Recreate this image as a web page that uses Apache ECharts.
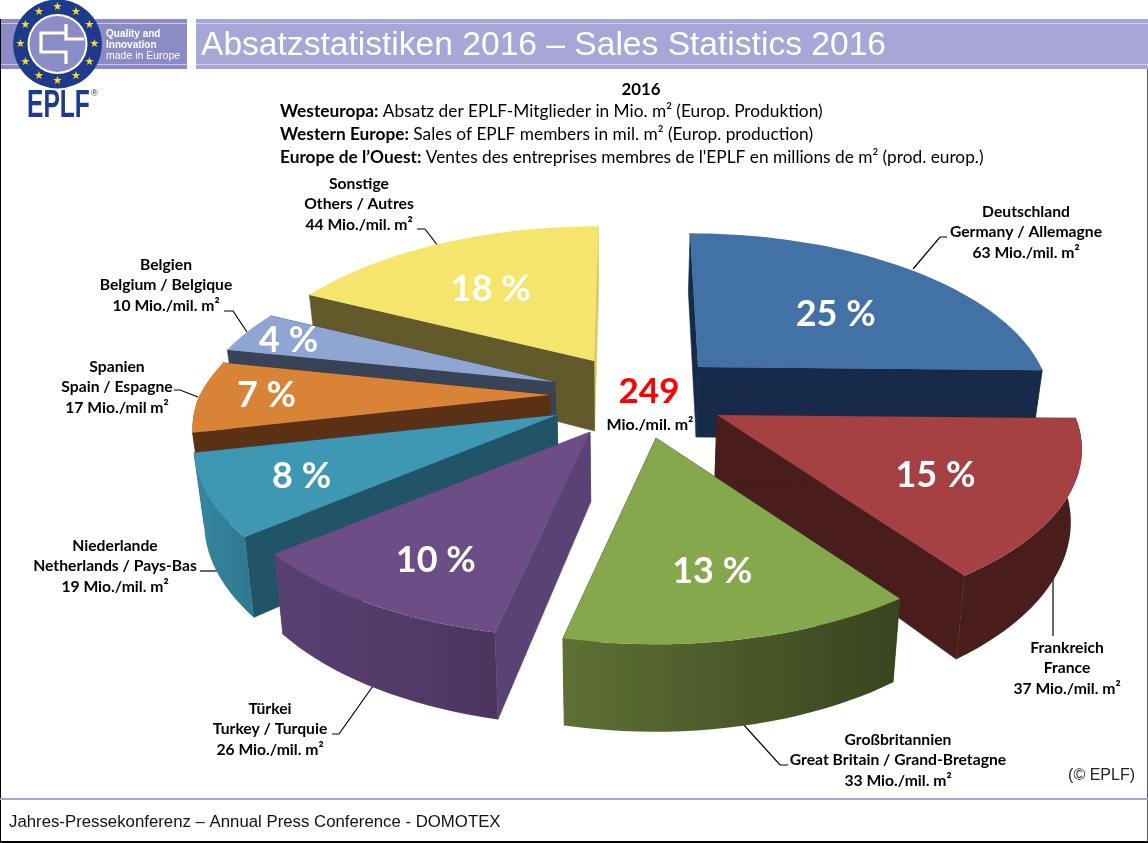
<!DOCTYPE html>
<html>
<head>
<meta charset="utf-8">
<title>Absatzstatistiken 2016</title>
<style>
  html, body { margin: 0; padding: 0; background: #fff; }
  #chart { width: 1148px; height: 843px; }
</style>
<script src="https://cdn.jsdelivr.net/npm/echarts@6/dist/echarts.min.js"></script>
</head>
<body>
<div id="chart"></div>
<script>
// data, clockwise from the top of the pie
var namesDe = ['Deutschland', 'Frankreich', 'Großbritannien', 'Türkei', 'Niederlande', 'Spanien', 'Belgien', 'Sonstige'];
var namesEnFr = ['Germany / Allemagne', 'France', 'Great Britain / Grand-Bretagne', 'Turkey / Turquie', 'Netherlands / Pays-Bas', 'Spain / Espagne', 'Belgium / Belgique', 'Others / Autres'];
var salesValues = [63, 37, 33, 26, 19, 17, 10, 44];
var unitTexts = ['Mio./mil. m²', 'Mio./mil. m²', 'Mio./mil. m²', 'Mio./mil. m²', 'Mio./mil. m²', 'Mio./mil m²', 'Mio./mil. m²', 'Mio./mil. m²'];

// colours per slice: top, radial walls (start/end), rim wall left/right
var topColors = ['#4171a5', '#a54142', '#86a84c', '#6d4d86', '#3e98b4', '#d98337', '#8fa5d2', '#f6e56c'];
var startWallColors = ['#172a49', '#4a1d1d', '#39451f', '#5b4274', '#205466', '#5a3114', '#394358', '#635a2b'];
var endWallColors = ['#172a49', '#4a1d1d', '#39451f', '#5b4274', '#205466', '#5a3114', '#394358', '#d8ca5e'];
var rimLeft = ['#172a49', '#4a1d1d', '#5f7035', '#5a4072', '#36879f', '#5a3114', '#394358', '#635a2b'];
var rimRight = ['#172a49', '#4a1d1d', '#38441f', '#4d3560', '#2f7a92', '#5a3114', '#394358', '#635a2b'];

// explosion of each slice from the pie centre, in px
var pieCenter = [625, 395];
var explode = [[73, -28], [92, 20], [31, 43], [-35, 37], [-68, 20], [-75, 0], [-70, -13], [-31, -34]];
// apparent size of each slice (farther ones look smaller)
var sliceScale = [0.945, 0.985, 0.97, 0.99, 0.98, 0.965, 0.967, 0.96];
// how far out along the slice's middle the percent label sits, plus a small nudge
var labelRadius = [0.57, 0.66, 0.72, 0.74, 0.74, 0.78, 0.81, 0.55];
var labelNudge = [[12, 7], [-4, 6], [-3, -2], [3, 9], [-3, 3], [-10, 0], [-14, -1], [-13, -3]];
// painter's order, back to front
var drawOrder = [0, 1, 7, 6, 5, 4, 3, 2];

// outer labels and their leader lines
var labelPos = [[1026, 232], [1067, 668], [898, 760], [270, 729], [115, 566], [117, 387], [166, 285], [359, 204]];
var leaders = [
  [[913, 269], [940, 237], [947, 237]],
  [[1053, 578], [1053, 636]],
  [[743, 724], [780, 765], [788, 765]],
  [[373, 686], [339, 734], [332, 734]],
  [[217, 571], [200, 571]],
  [[198, 397], [180, 390], [174, 390]],
  [[247, 332], [233, 311], [224, 311]],
  [[438, 246], [425, 229], [417, 229]]
];

// projection of the tilted pie
var RX = 363, RY = 165, PERSP = 0.2, DEPTH = 70, VP_X = 630, VP_WALL = 620;
var FONT = 'Lato, "Open Sans", sans-serif';

var total = salesValues.reduce(function (a, b) { return a + b; }, 0);
var angles = [];
var acc = 0;
salesValues.forEach(function (v) {
  angles.push([acc / total * 360, (acc + v) / total * 360]);
  acc += v;
});

function apexOf(i) {
  return [pieCenter[0] + explode[i][0], pieCenter[1] + explode[i][1]];
}

// point on slice i's top face, r = 0..1, deg clockwise from the top
function topPoint(i, deg, r) {
  var apex = apexOf(i);
  var a = deg * Math.PI / 180;
  var X = Math.sin(a) * r, Y = -Math.cos(a) * r;
  var s = 1 / (1 - PERSP * Y);
  var k = sliceScale[i];
  return [
    apex[0] + X * RX * s * k + (apex[0] - VP_X) * 0.7 * Math.min(s - 1, 0),
    apex[1] + Y * RY * s * (Y < 0 ? Math.sqrt(k) : 1),
    s
  ];
}

function bottomOf(p) {
  return [VP_WALL + (p[0] - VP_WALL) * 0.976, p[1] + DEPTH * p[2]];
}

function xy(p) { return [p[0], p[1]]; }

function arcPoints(i, a0, a1) {
  var pts = [];
  var n = Math.max(2, Math.ceil((a1 - a0) / 2));
  for (var k = 0; k <= n; k++) {
    pts.push(topPoint(i, a0 + (a1 - a0) * k / n, 1));
  }
  return pts;
}

function radialWall(i, deg, color) {
  var apex = apexOf(i);
  var apexTop = [apex[0], apex[1], 1];
  var rim = topPoint(i, deg, 1);
  return {
    type: 'polygon',
    shape: { points: [xy(apexTop), xy(rim), bottomOf(rim), bottomOf(apexTop)] },
    style: { fill: color, stroke: color, lineWidth: 0.6 }
  };
}

function renderSlice(params, api) {
  var i = api.value(2), a0 = api.value(0), a1 = api.value(1);
  var children = [];
  children.push(radialWall(i, a1, endWallColors[i]));
  children.push(radialWall(i, a0, startWallColors[i]));

  // rim wall only on the part of the arc that faces the viewer
  var r0 = Math.max(a0, 90), r1 = Math.min(a1, 270);
  if (r1 > r0) {
    var rim = arcPoints(i, r0, r1);
    var pts = rim.map(xy).concat(rim.slice().reverse().map(bottomOf));
    var xs = rim.map(function (p) { return p[0]; });
    var x0 = Math.min.apply(null, xs), x1 = Math.max.apply(null, xs);
    children.push({
      type: 'polygon',
      shape: { points: pts },
      style: {
        fill: new echarts.graphic.LinearGradient(x0, 0, x1, 0, [
          { offset: 0, color: rimLeft[i] },
          { offset: 1, color: rimRight[i] }
        ], true)
      }
    });
  }

  var top = [apexOf(i)].concat(arcPoints(i, a0, a1).map(xy));
  children.push({ type: 'polygon', shape: { points: top }, style: { fill: topColors[i] } });
  return { type: 'group', children: children };
}

function renderPercent(params, api) {
  var i = api.value(2);
  var mid = (api.value(0) + api.value(1)) / 2;
  var p = topPoint(i, mid, labelRadius[i]);
  return {
    type: 'text',
    style: {
      x: p[0] + labelNudge[i][0], y: p[1] + labelNudge[i][1],
      text: Math.round(salesValues[i] / total * 100) + ' %',
      fill: '#fff',
      font: 'bold 36px ' + FONT,
      align: 'center',
      verticalAlign: 'middle'
    }
  };
}

var sliceData = drawOrder.map(function (i) { return [angles[i][0], angles[i][1], i]; });

function headLine(y, bold, rest) {
  return {
    type: 'text',
    style: {
      x: 280, y: y,
      text: '{b|' + bold + '}' + rest,
      fill: '#000',
      font: '17.3px ' + FONT,
      verticalAlign: 'middle',
      rich: { b: { font: 'bold 17.3px ' + FONT, fill: '#000' } }
    }
  };
}

// page furniture
var graphics = [
  { type: 'rect', shape: { x: 0, y: 19, width: 187, height: 50 }, style: { fill: '#8b8bc6' } },
  { type: 'rect', shape: { x: 196, y: 19, width: 952, height: 50 }, style: { fill: '#a7a6d6' } },
  { type: 'rect', shape: { x: 0, y: 23, width: 187, height: 1 }, style: { fill: '#c9c9e6' } },
  { type: 'rect', shape: { x: 0, y: 64, width: 187, height: 1 }, style: { fill: '#c9c9e6' } },
  { type: 'rect', shape: { x: 196, y: 23, width: 952, height: 1 }, style: { fill: '#d3d3ec' } },
  { type: 'rect', shape: { x: 196, y: 64, width: 952, height: 1 }, style: { fill: '#d3d3ec' } },
  { type: 'rect', shape: { x: 0, y: 19, width: 1, height: 824 }, style: { fill: '#000' } },
  { type: 'rect', shape: { x: 1147, y: 69, width: 1, height: 774 }, style: { fill: '#555' } },
  { type: 'rect', shape: { x: 0, y: 841, width: 1148, height: 2 }, style: { fill: '#000' } },
  { type: 'rect', shape: { x: 0, y: 798, width: 1148, height: 2 }, style: { fill: '#a7a6d6' } },

  // logo ring
  { type: 'circle', shape: { cx: 57.5, cy: 44, r: 44.5 }, style: { fill: '#1d3a8c' } },
  { type: 'circle', shape: { cx: 57.5, cy: 44, r: 30 }, style: { fill: '#fff' } },
  { type: 'circle', shape: { cx: 57.5, cy: 44, r: 28 }, style: { fill: '#8b8bc6' } },
  { type: 'polyline', shape: { points: [[66, 24], [66, 33], [41, 33], [41, 52], [66, 52], [66, 64]] }, style: { stroke: '#fff', lineWidth: 3.2, fill: null } },
  { type: 'polyline', shape: { points: [[66, 33], [66, 39], [84, 39]] }, style: { stroke: '#fff', lineWidth: 3.2, fill: null } },
  { type: 'text', x: 27, y: 106, scaleX: 0.63, style: { x: 0, y: 0, text: 'EPLF', fill: '#1d3a8c', font: 'bold 39px "Liberation Sans"', verticalAlign: 'middle' } },
  { type: 'text', style: { x: 91, y: 94, text: '®', fill: '#1d3a8c', font: '9px "Liberation Sans"', verticalAlign: 'middle' } },
  { type: 'text', style: { x: 106, y: 34, text: 'Quality and', fill: '#fff', font: 'bold 10px "Liberation Sans"', verticalAlign: 'middle' } },
  { type: 'text', style: { x: 106, y: 45, text: 'Innovation', fill: '#fff', font: 'bold 10px "Liberation Sans"', verticalAlign: 'middle' } },
  { type: 'text', style: { x: 106, y: 56, text: 'made in Europe', fill: '#fff', font: '10.5px "Liberation Sans"', verticalAlign: 'middle' } },

  // headings
  { type: 'text', style: { x: 201, y: 46, text: 'Absatzstatistiken 2016 – Sales Statistics 2016', fill: '#fff', font: '33.6px "Liberation Sans"', verticalAlign: 'middle' } },
  { type: 'text', style: { x: 641, y: 90, text: '2016', fill: '#000', font: 'bold 16.8px ' + FONT, align: 'center', verticalAlign: 'middle' } },
  headLine(111, 'Westeuropa:', ' Absatz der EPLF-Mitglieder in Mio. m² (Europ. Produktion)'),
  headLine(134, 'Western Europe:', ' Sales of EPLF members in mil. m² (Europ. production)'),
  headLine(157, 'Europe de l’Ouest:', ' Ventes des entreprises membres de l\'EPLF en millions de m² (prod. europ.)'),

  // total in the middle
  { type: 'text', style: { x: 649, y: 392, text: String(total), fill: '#ff0000', font: 'bold 35px ' + FONT, align: 'center', verticalAlign: 'middle' } },
  { type: 'text', style: { x: 650, y: 425, text: 'Mio./mil. m²', fill: '#000', font: 'bold 16px ' + FONT, align: 'center', verticalAlign: 'middle' } },

  { type: 'text', style: { x: 1135, y: 776, text: '(© EPLF)', fill: '#222', font: '16px "Liberation Sans"', align: 'right', verticalAlign: 'middle' } },
  { type: 'text', style: { x: 9, y: 822, text: 'Jahres-Pressekonferenz – Annual Press Conference - DOMOTEX', fill: '#111', font: '16.8px "Liberation Sans"', verticalAlign: 'middle' } }
];

// twelve stars of the logo ring
for (var st = 0; st < 12; st++) {
  var ang = st * Math.PI / 6;
  graphics.push({
    type: 'text',
    style: {
      x: 57.5 + Math.sin(ang) * 37,
      y: 44 - Math.cos(ang) * 37,
      text: '★',
      fill: '#f5d92e',
      font: '11px "DejaVu Sans"',
      align: 'center',
      verticalAlign: 'middle'
    }
  });
}

salesValues.forEach(function (v, i) {
  graphics.push({
    type: 'polyline',
    shape: { points: leaders[i] },
    style: { stroke: '#000', lineWidth: 1.2, fill: null }
  });
  graphics.push({
    type: 'text',
    style: {
      x: labelPos[i][0], y: labelPos[i][1],
      text: namesDe[i] + '\n' + namesEnFr[i] + '\n' + v + ' ' + unitTexts[i],
      fill: '#000',
      font: 'bold 15.7px ' + FONT,
      lineHeight: 20.5,
      align: 'center',
      verticalAlign: 'middle'
    }
  });
});

var myChart = echarts.init(document.getElementById('chart'));
myChart.setOption({
  animation: false,
  graphic: { elements: graphics },
  series: [
    { type: 'custom', coordinateSystem: 'none', silent: true, z: 3, renderItem: renderSlice, data: sliceData },
    { type: 'custom', coordinateSystem: 'none', silent: true, z: 4, renderItem: renderPercent, data: sliceData }
  ]
});

window.addEventListener('resize', function () {
  myChart.resize();
});
</script>
</body>
</html>
